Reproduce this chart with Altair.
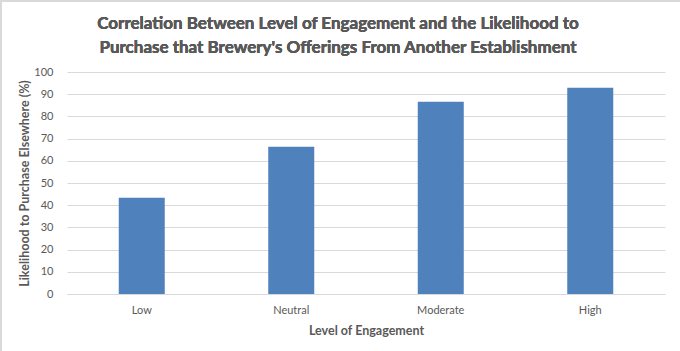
import altair as alt
import pandas as pd

categories = ["Low", "Neutral", "Moderate", "High"]
values = [43.3, 66.3, 86.6, 92.9]
title_lines = ["Correlation Between Level of Engagement and the Likelihood to",
               "Purchase that Brewery's Offerings From Another Establishment"]

df = pd.DataFrame({"level": categories, "pct": values})

TXT = "#595959"
FONT = "Lato"

bars = alt.Chart(df).mark_bar(color="#4f81bd", size=46).encode(
    x=alt.X("level:N", sort=categories, title="Level of Engagement",
            scale=alt.Scale(paddingInner=0, paddingOuter=0),
            axis=alt.Axis(labelAngle=0, ticks=False, domainColor="#d9d9d9",
                          labelColor=TXT, labelFont=FONT, labelFontSize=11,
                          labelPadding=10, titleFont=FONT, titleFontSize=12.5,
                          titleColor=TXT, titleFontWeight="bold", titlePadding=9)),
    y=alt.Y("pct:Q", title="Likelihood to Purchase Elsewhere (%)",
            scale=alt.Scale(domain=[0, 100]),
            axis=alt.Axis(values=list(range(0, 101, 10)), ticks=False, domain=False,
                          gridColor="#d9d9d9", labelColor=TXT, labelFont=FONT,
                          labelFontSize=11, labelPadding=14, titleFont=FONT,
                          titleFontSize=12.5, titleColor=TXT, titleFontWeight="bold",
                          titlePadding=2)),
)

title = alt.Chart(df).mark_text(
    font=FONT, fontSize=17, fontWeight="bold", color=TXT, align="center",
    baseline="alphabetic", lineHeight=24, clip=False
).encode(x=alt.value(271), y=alt.value(-43), text=alt.value(title_lines))

border_top = alt.Chart(df).mark_rule(color="#d9d9d9", strokeWidth=2, clip=False).encode(
    x=alt.value(-67), x2=alt.value(613), y=alt.value(-71))
border_left = alt.Chart(df).mark_rule(color="#d9d9d9", strokeWidth=2, clip=False).encode(
    x=alt.value(-66), y=alt.value(-72), y2=alt.value(280))

chart = alt.layer(bars, title, border_top, border_left).properties(
    width=598, height=222,
    autosize=alt.AutoSizeParams(type="none"),
    padding={"left": 67, "top": 72, "right": 15, "bottom": 57},
    background="white",
).configure_view(stroke=None)

chart.save("out.html", embed_options={"renderer": "svg", "actions": False})
